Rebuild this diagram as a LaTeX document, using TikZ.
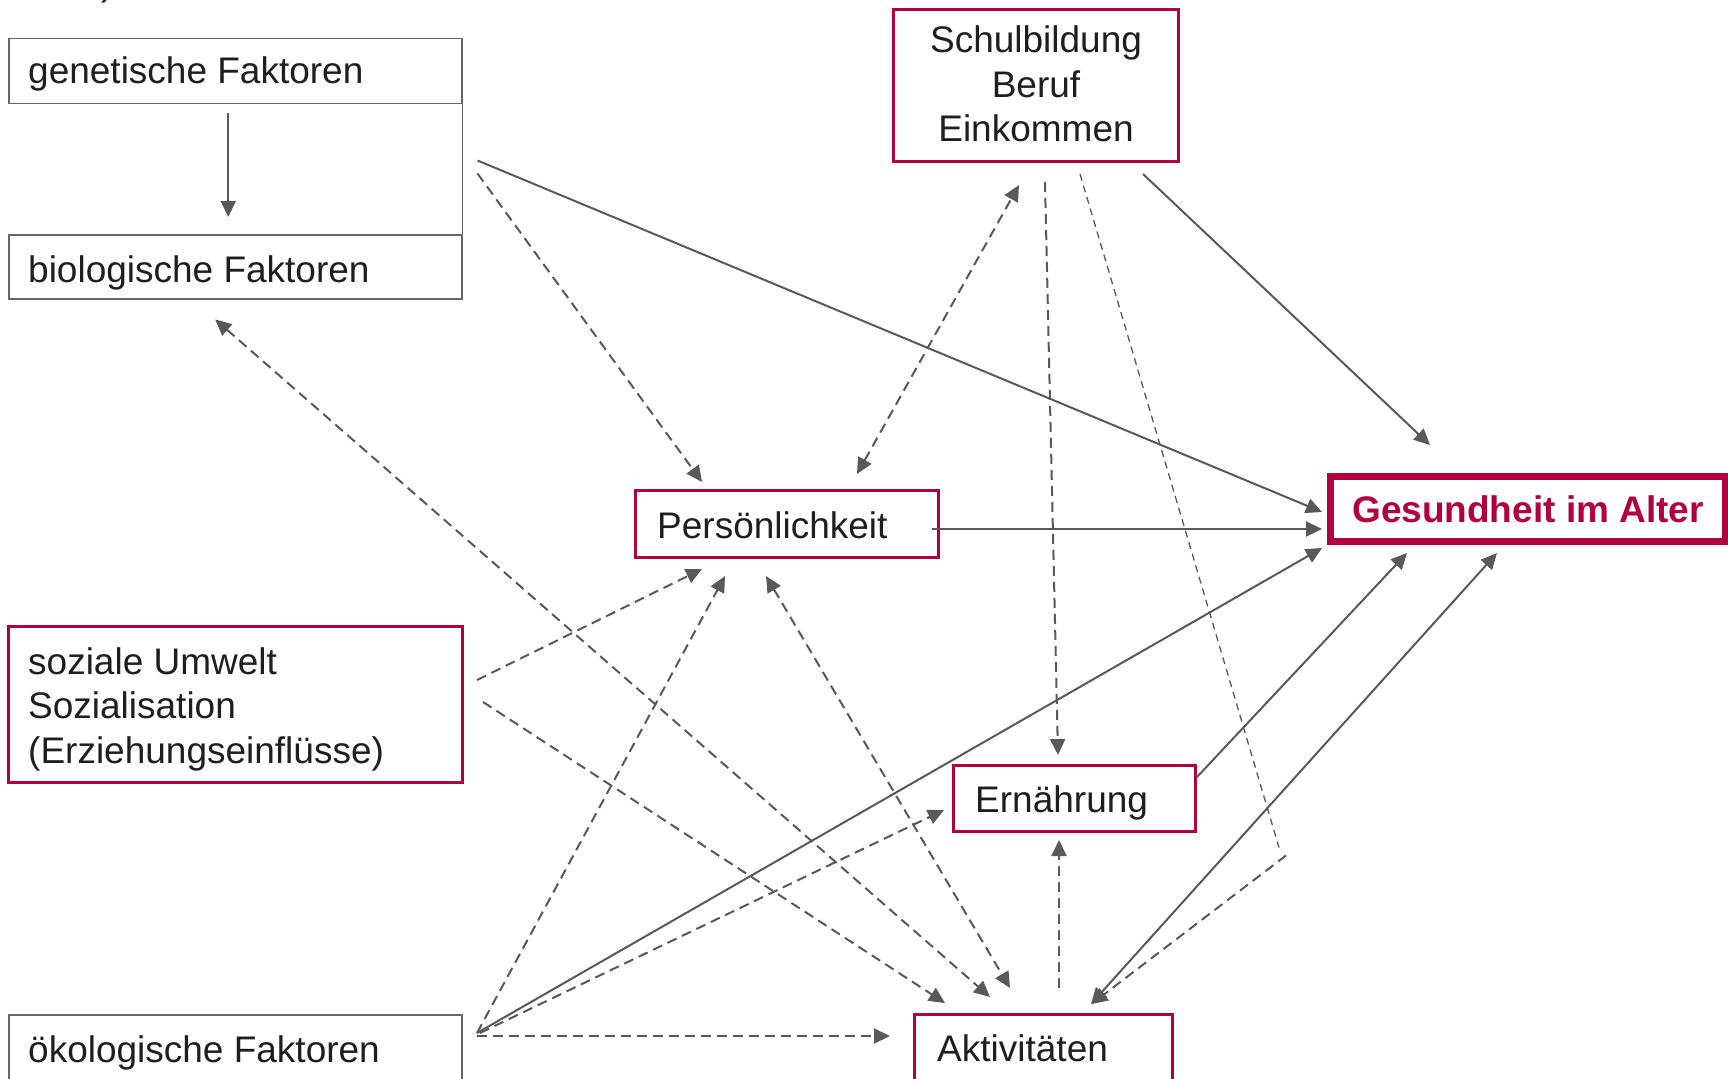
\documentclass[tikz,border=0pt]{standalone}
\usepackage{fontspec}
\setmainfont{Liberation Sans}
\usetikzlibrary{arrows.meta,calc}
\definecolor{crim}{HTML}{B0003F}
\definecolor{lc}{HTML}{595959}
\definecolor{bc}{HTML}{666666}
\definecolor{tc}{HTML}{1E1E1E}
\begin{document}
\begin{tikzpicture}[x=1pt,y=-1pt,
  gbox/.style={draw=bc, line width=1.5pt, anchor=north west, inner sep=0pt},
  rbox/.style={draw=crim, line width=3pt, anchor=north west, inner sep=0pt},
  gesbox/.style={draw=crim, line width=7pt, anchor=north west, inner sep=0pt},
  txt/.style={font=\fontsize{37pt}{44.5pt}\selectfont, text=tc, inner sep=0pt},
  conn/.style={draw=lc, line width=2pt},
  dsh/.style={conn, dash pattern=on 10pt off 6pt},
  thindsh/.style={draw=lc, line width=1.3pt, dash pattern=on 7pt off 5pt},
  tip/.style={-{Triangle[length=16pt,width=15pt]}},
  tips/.style={{Triangle[length=16pt,width=15pt]}-{Triangle[length=16pt,width=15pt]}},
]
\clip (0,0) rectangle (1728,1078);
\fill[white] (0,0) rectangle (1728,1078);

% boxes
\node[gbox, minimum width=453pt, minimum height=65pt] (gen) at (8,38) {};
\node[gbox, minimum width=453pt, minimum height=64pt] (bio) at (8,234) {};
\node[rbox, minimum width=285pt, minimum height=152pt] (schul) at (892,8) {};
\node[gesbox, minimum width=395pt, minimum height=65pt] (ges) at (1327,473) {};
\node[rbox, minimum width=303pt, minimum height=67pt] (pers) at (634,489) {};
\node[rbox, minimum width=454pt, minimum height=156pt] (soz) at (7,625) {};
\node[rbox, minimum width=242pt, minimum height=66pt] (ern) at (952,764) {};
\node[rbox, minimum width=258pt, minimum height=100pt] (akt) at (913,1013) {};
\node[gbox, minimum width=453pt, minimum height=100pt] (oek) at (8,1014) {};

% texts
\node[txt, anchor=base west] (cut) at (101,-4) {)};
\node[txt, anchor=base west] (gent) at (28,84) {genetische Faktoren};
\node[txt, anchor=base west] (biot) at (28,282) {biologische Faktoren};
\node[txt, anchor=base, align=center] (schult) at (1036,142) {Schulbildung\\Beruf\\Einkommen};
\node[txt, anchor=base west, text=crim, font=\fontsize{37pt}{44.5pt}\selectfont\bfseries] (gest) at (1352,522) {Gesundheit im Alter};
\node[txt, anchor=base west] (perst) at (657,538) {Persönlichkeit};
\node[txt, anchor=base west, align=left] (sozt) at (28,763) {soziale Umwelt\\Sozialisation\\(Erziehungseinflüsse)};
\node[txt, anchor=base west] (ernt) at (975,812) {Ernährung};
\node[txt, anchor=base west] (aktt) at (937,1061) {Aktivitäten};
\node[txt, anchor=base west] (oekt) at (28,1062) {ökologische Faktoren};

% helper coordinates
\coordinate (bendA) at ($(ern.east)+(82,49)$);
\coordinate (bendB) at ($(ern.east)+(89,57)$);

% connectors
\draw[bc, line width=1.5pt] (gen.south east) -- (bio.north east);
\draw[conn, tip] ($(gen.south)+(-7,9)$) -- ($(bio.north)+(-7,-17)$);
\draw[conn, tip] ($(gen.south east)+(15,56)$) -- ($(ges.west)+(-5,3)$);
\draw[dsh, tip] ($(gen.south east)+(15,69)$) -- ($(pers.north)+(-85,-7)$);
\draw[dsh, tips] ($(pers.north)+(70,-15)$) -- ($(schul.south)+(-17,22)$);
\draw[dsh, tip] ($(schul.south)+(9,19)$) -- ($(ern.north)+(-16.5,-9)$);
\draw[thindsh] ($(schul.south)+(44,11)$) -- (bendA);
\draw[dsh, tip] (bendB) -- ($(akt.north)+(48,-9)$);
\draw[conn, tip] ($(schul.south)+(107,11)$) -- ($(ges.north)+(-98,-28)$);
\draw[conn, tip] ($(pers.east)+(-8,5)$) -- ($(ges.west)+(-5,20)$);
\draw[dsh, tips] ($(bio.south)+(-20,20)$) -- ($(akt.north)+(-53.5,-16)$);
\draw[dsh, tip] ($(soz.east)+(13,-24.5)$) -- ($(pers.south)+(-85,10)$);
\draw[dsh, tip] ($(soz.east)+(19,-2.5)$) -- ($(akt.north)+(-98.5,-10)$);
\draw[dsh, tips] ($(pers.south)+(-21,17)$) -- ($(akt.north)+(-33.5,-25)$);
\draw[dsh, tip] ($(oek.north east)+(14.5,19)$) -- ($(pers.south)+(-62,17)$);
\draw[conn, tip] ($(oek.north east)+(14.5,19)$) -- ($(ges.west)+(-5,39)$);
\draw[dsh, tip] ($(oek.north east)+(17.5,19)$) -- ($(ern.west)+(-8,11.5)$);
\draw[dsh, tip] ($(oek.north east)+(14.5,22)$) -- ($(akt.north west)+(-23,23)$);
\draw[conn, tip] ($(ern.north east)+(0,13)$) -- ($(ges.south)+(-121,8)$);
\draw[conn, tips] ($(akt.north)+(47.5,-9)$) -- ($(ges.south)+(-31,8)$);
\draw[dsh, tip] ($(akt.north)+(15.5,-25)$) -- ($(ern.south)+(-15.5,7)$);
\end{tikzpicture}
\end{document}
